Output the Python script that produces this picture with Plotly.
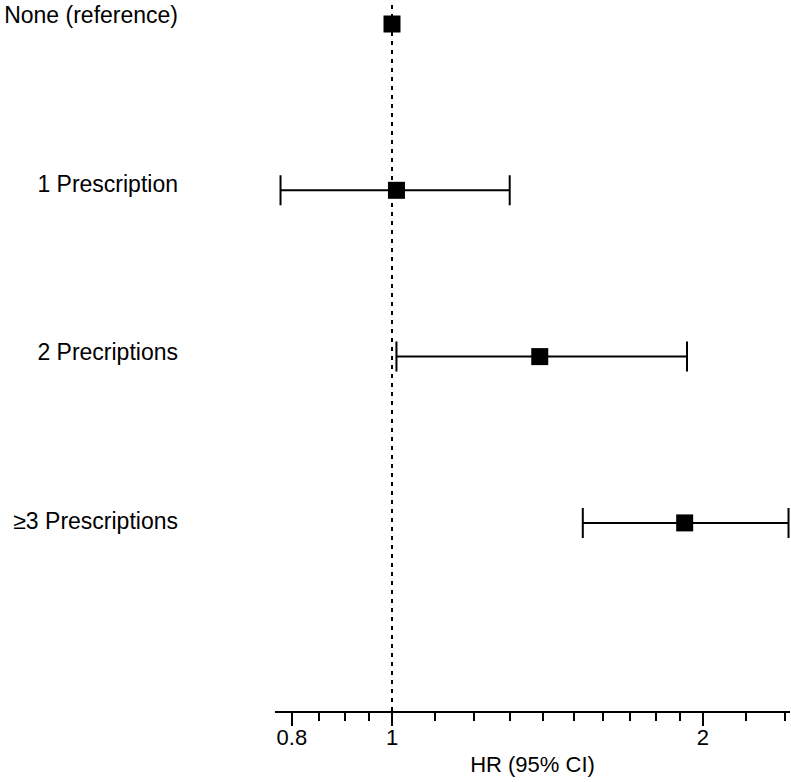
import plotly.graph_objects as go

categories = ["None (reference)", "1 Prescription", "2 Precriptions", "≥3 Prescriptions"]
hr = [1.0, 1.01, 1.39, 1.92]
ci_low = [None, 0.78, 1.01, 1.53]
ci_high = [None, 1.30, 1.93, 2.42]

major_ticks = [0.8, 1, 2]
major_labels = ["0.8", "1", "2"]
minor_ticks = [0.85, 0.9, 0.95, 1.1, 1.2, 1.3, 1.4, 1.5, 1.6, 1.7, 1.8, 1.9, 2.2, 2.4]

FONT = "Liberation Sans, Arial, sans-serif"

fig = go.Figure()
idx = [i for i, lo in enumerate(ci_low) if lo is not None]
fig.add_trace(go.Scatter(
    x=[hr[i] for i in idx], y=[categories[i] for i in idx], mode="markers",
    marker=dict(symbol="square", size=17, color="black"),
    error_x=dict(type="data", symmetric=False,
                 array=[ci_high[i] - hr[i] for i in idx],
                 arrayminus=[hr[i] - ci_low[i] for i in idx],
                 color="black", thickness=2, width=15),
    showlegend=False, hoverinfo="skip"))
idx0 = [i for i, lo in enumerate(ci_low) if lo is None]
fig.add_trace(go.Scatter(
    x=[hr[i] for i in idx0], y=[categories[i] for i in idx0], mode="markers",
    marker=dict(symbol="square", size=17, color="black"),
    showlegend=False, hoverinfo="skip"))
# invisible trace that carries the label axis
fig.add_trace(go.Scatter(
    x=hr, y=categories, yaxis="y2", mode="markers",
    marker=dict(size=1, opacity=0), showlegend=False, hoverinfo="skip"))

fig.add_shape(type="line", xref="x", yref="paper", x0=1, x1=1, y0=0, y1=1,
              line=dict(color="black", width=2, dash="4px,5px"), layer="below")

fig.update_layout(
    width=791, height=782,
    margin=dict(l=275, r=1, t=0, b=71, autoexpand=False),
    plot_bgcolor="white", paper_bgcolor="white",
    font=dict(family=FONT, size=22, color="black"),
    xaxis=dict(
        type="log", range=[-0.11325, 0.38525], automargin=False,
        tickmode="array", tickvals=major_ticks, ticktext=major_labels,
        showline=True, linecolor="black", linewidth=2,
        ticks="outside", ticklen=13, tickwidth=2, tickcolor="black",
        showgrid=False, zeroline=False,
        minor=dict(tickmode="array", tickvals=minor_ticks, ticks="outside",
                   ticklen=8, tickwidth=2, tickcolor="black", showgrid=False),
        title=dict(text="HR (95% CI)", font=dict(size=22), standoff=7),
        tickfont=dict(size=22),
        ticklabelstandoff=-7,
    ),
    yaxis=dict(
        type="category", categoryorder="array", categoryarray=categories,
        range=[4.131, -0.1443], automargin=False,
        showline=False, showgrid=False, zeroline=False, ticks="",
        showticklabels=False,
    ),
    yaxis2=dict(
        type="category", categoryorder="array", categoryarray=categories,
        range=[4.126, -0.0889], overlaying="y", side="left", anchor="x",
        automargin=False,
        showline=False, showgrid=False, zeroline=False, ticks="",
        ticklabelstandoff=96, tickfont=dict(size=23),
    ),
)

fig.write_html(
    "out.html",
    config={"displayModeBar": False},
    post_script="document.body.style.margin='0';document.body.style.overflow='hidden';",
)
